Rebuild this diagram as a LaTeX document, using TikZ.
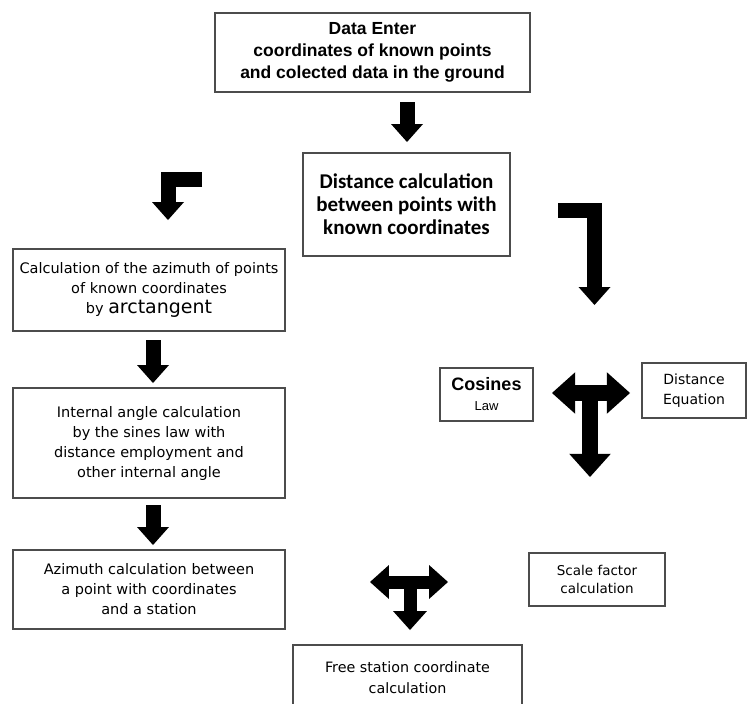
\documentclass[tikz,border=0pt]{standalone}
\usepackage{fontspec}
\setmainfont{Liberation Sans}
\newfontfamily\calfont{Carlito}
\newfontfamily\dejafont{DejaVu Sans}
\usetikzlibrary{arrows.meta}

\begin{document}
\begin{tikzpicture}[x=1pt, y=-1pt,
    caja/.style={draw=black!70, line width=1.3pt, inner sep=2pt, align=center},
    flecha/.style={line width=15pt, line join=miter, -{Triangle[width=32pt, length=18pt, line width=0pt 0]}},
    flechados/.style={line width=#1, {Triangle[width=2.6*#1, length=1.45*#1, line width=0pt 0]}-{Triangle[width=2.6*#1, length=1.45*#1, line width=0pt 0]}},
    flechabaja/.style={line width=#1, -{Triangle[width=2.6*#1, length=1.45*#1, line width=0pt 0]}}]
            \useasboundingbox (0,0) rectangle (748,704);

            % Cajas
            \node[caja, minimum width=315pt, minimum height=79pt, font=\fontsize{17.5}{22}\selectfont\bfseries] (entrada) at (372.5,52.5)
                {Data Enter\\coordinates of known points\\and colected data in the ground};
            \node[caja, minimum width=207pt, minimum height=103pt, font=\calfont\fontsize{21}{23}\selectfont\bfseries] (distancia) at (406.5,204.5)
                {Distance calculation\\between points with\\known coordinates};
            \node[caja, minimum width=272pt, minimum height=82pt, font=\dejafont\fontsize{14.5}{20}\selectfont] (azimut) at (149,290)
                {Calculation of the azimuth of points\\of known coordinates\\by {\fontsize{19}{21}\selectfont arctangent}};
            \node[caja, minimum width=272pt, minimum height=110pt, font=\dejafont\fontsize{14.5}{20}\selectfont] (angulo) at (149,443)
                {Internal angle calculation\\by the sines law with\\distance employment and\\other internal angle};
            \node[caja, minimum width=272pt, minimum height=79pt, font=\dejafont\fontsize{14.5}{20}\selectfont] (estacion) at (149,589.5)
                {Azimuth calculation between\\a point with coordinates\\and a station};
            \node[caja, minimum width=93pt, minimum height=53pt, font=\fontsize{18}{20}\selectfont] (cosenos) at (486.5,394.5)
                {\bfseries Cosines\\\fontsize{13}{20}\selectfont\mdseries Law};
            \node[caja, minimum width=104pt, minimum height=55pt, font=\dejafont\fontsize{14}{20}\selectfont] (ecuacion) at (694,390.5)
                {Distance\\Equation};
            \node[caja, minimum width=136pt, minimum height=53pt, font=\dejafont\fontsize{13.5}{18}\selectfont] (escala) at (597,579.5)
                {Scale factor\\calculation};
            \node[caja, minimum width=229pt, minimum height=66pt, font=\dejafont\fontsize{14.3}{21}\selectfont] (libre) at (407.5,678)
                {Free station coordinate\\calculation};

            % Puntos de las flechas
            \coordinate (f1a) at (407,102);  \coordinate (f1b) at (407,142);
            \coordinate (l1a) at (202,179);  \coordinate (l1b) at (168,220);
            \coordinate (l2a) at (558,210);  \coordinate (l2b) at (594.5,305);
            \coordinate (f2a) at (153,340);  \coordinate (f2b) at (153,383);
            \coordinate (f3a) at (153,505);  \coordinate (f3b) at (153,545);
            \coordinate (t1i) at (552,393);  \coordinate (t1d) at (630,393);
            \coordinate (t1b) at (590,477);
            \coordinate (t2i) at (370,582);  \coordinate (t2d) at (448,582);
            \coordinate (t2b) at (410,630);

            % Flechas
            \draw[flecha] (f1a) -- (f1b);
            \draw[flecha] (l1a) -| (l1b);
            \draw[flecha] (l2a) -| (l2b);
            \draw[flecha] (f2a) -- (f2b);
            \draw[flecha] (f3a) -- (f3b);
            \draw[flechados=16pt] (t1i) -- (t1d);
            \draw[flechabaja=16pt] (t1i -| t1b) -- (t1b);
            \draw[flechados=13pt] (t2i) -- (t2d);
            \draw[flechabaja=13pt] (t2i -| t2b) -- (t2b);
        \end{tikzpicture}
\end{document}
